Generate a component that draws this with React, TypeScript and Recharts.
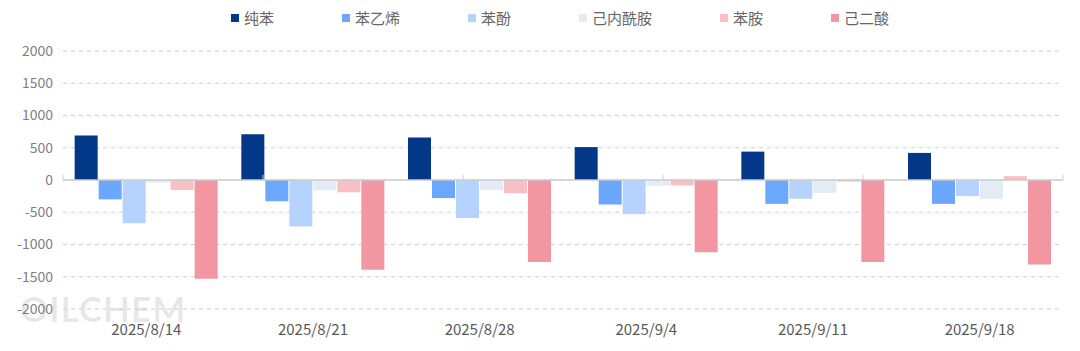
import React from "react";
import {
  BarChart,
  Bar,
  XAxis,
  YAxis,
  CartesianGrid,
  ReferenceLine,
} from "recharts";

const categories = ["2025/8/14", "2025/8/21", "2025/8/28", "2025/9/4", "2025/9/11", "2025/9/18"];

const benzene = [690, 710, 660, 510, 440, 420];
const styrene = [-300, -330, -280, -380, -370, -370];
const phenol = [-670, -720, -590, -530, -290, -250];
const caprolactam = [-40, -160, -155, -88, -200, -290];
const aniline = [-155, -190, -205, -85, -25, 60];
const adipicAcid = [-1530, -1390, -1270, -1120, -1270, -1310];

const yTicks = [-2000, -1500, -1000, -500, 0, 500, 1000, 1500, 2000];

const SERIES = [
  { key: "benzene", name: "纯苯", color: "#023887", values: benzene },
  { key: "styrene", name: "苯乙烯", color: "#6ba7fc", values: styrene },
  { key: "phenol", name: "苯酚", color: "#b6d3ff", values: phenol },
  { key: "caprolactam", name: "己内酰胺", color: "#e3ebf5", values: caprolactam },
  { key: "aniline", name: "苯胺", color: "#f8bfc6", values: aniline },
  { key: "adipicAcid", name: "己二酸", color: "#f297a1", values: adipicAcid },
];

const data = categories.map((c, i) => {
  const row: Record<string, string | number> = { name: c };
  SERIES.forEach((s) => {
    row[s.key] = s.values[i];
  });
  return row;
});

const FONT = '"Noto Sans CJK SC", "Noto Sans", sans-serif';

export default function App() {
  return (
    <div style={{ position: "absolute", left: 0, top: 0, width: 1080, height: 351, fontFamily: FONT }}>
      <div
        style={{
          position: "absolute",
          top: 8,
          left: 20,
          width: 1080,
          display: "flex",
          justifyContent: "center",
          gap: 68,
          fontSize: 15,
          color: "#666",
          lineHeight: "20px",
        }}
      >
        {SERIES.map((s) => (
          <div key={s.key} style={{ display: "flex", alignItems: "center" }}>
            <span style={{ width: 8, height: 8, background: s.color, marginRight: 5, display: "inline-block" }} />
            {s.name}
          </div>
        ))}
      </div>
      {/* watermark */}
      <div
        style={{
          position: "absolute",
          left: 20,
          top: 287,
          fontSize: 35,
          fontWeight: 700,
          color: "rgba(0,0,0,0.09)",
          fontFamily: "Lato, sans-serif",
          letterSpacing: 1,
        }}
      >
        OILCHEM
      </div>
      <BarChart
        width={1080}
        height={351}
        data={data}
        margin={{ top: 51, right: 17, left: 8, bottom: 12 }}
        barCategoryGap="7%"
        barGap={1}
      >
        <CartesianGrid vertical={false} stroke="#cfcfcf" strokeDasharray="4 4" />
        <XAxis
          dataKey="name"
          height={30}
          axisLine={false}
          tickLine={false}
          tickMargin={9}
          tick={{ fontSize: 15, fill: "#595959", fontFamily: FONT }}
        />
        <XAxis xAxisId="b" type="number" domain={[0, 6]} hide />
        <YAxis
          width={55}
          domain={[-2000, 2000]}
          ticks={yTicks}
          axisLine={false}
          tickLine={false}
          tickMargin={4}
          tick={{ fontSize: 14, fill: "#7f7f7f", fontFamily: FONT }}
        />
        {SERIES.map((s) => (
          <Bar key={s.key} dataKey={s.key} name={s.name} fill={s.color} isAnimationActive={false} />
        ))}
        <ReferenceLine y={0} stroke="#cccccc" strokeWidth={1.5} />
        {categories.concat([""]).map((_, i) => (
          <ReferenceLine
            key={"t" + i}
            xAxisId="b"
            segment={[
              { x: i, y: 0 },
              { x: i, y: 80 },
            ]}
            stroke="#cccccc"
            ifOverflow="visible"
          />
        ))}
      </BarChart>
    </div>
  );
}
